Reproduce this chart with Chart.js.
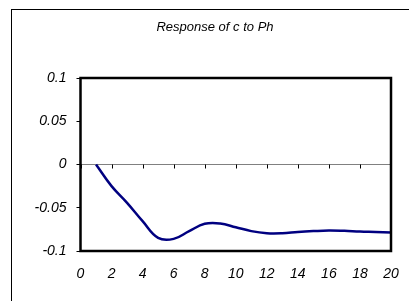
<!DOCTYPE html>
<html>
<head>
<meta charset="utf-8">
<script src="https://cdn.jsdelivr.net/npm/chart.js@4"></script>
<style>
  html, body { margin: 0; padding: 0; background: #fff; }
  #wrap { position: relative; width: 409px; height: 301px; overflow: hidden; }
  #frame {
    position: absolute; left: 11px; top: 9px; width: 420px; height: 320px;
    border-left: 1px solid #000; border-top: 1px solid #000;
  }
  #chart { position: absolute; left: 0; top: 0; }
</style>
</head>
<body>
<div id="wrap">
  <div id="frame"></div>
  <canvas id="chart" width="409" height="301"></canvas>
</div>
<script>
// Chart data
const chartTitle = "Response of c to Ph";
const periods = [1, 2, 3, 4, 5, 6, 7, 8, 9, 10, 11, 12, 13, 14, 15, 16, 17, 18, 19, 20];
const responses = [0, -0.025, -0.0443, -0.0655, -0.0848, -0.086, -0.077, -0.0686, -0.0682, -0.0725,
  -0.077, -0.0794, -0.0794, -0.078, -0.077, -0.0763, -0.0767, -0.0775, -0.078, -0.0786];
const yTickLabels = ["-0.1", "-0.05", "0", "0.05", "0.1"];

Chart.defaults.font.family = "'Liberation Sans', Arial, sans-serif";
Chart.defaults.font.style = "italic";
Chart.defaults.color = "#000";

// Title sits centred on the outer frame (which starts at x=11), not on the plot
const frameTitle = {
  id: "frameTitle",
  afterDraw(chart) {
    const { ctx } = chart;
    ctx.save();
    ctx.font = "italic 13px 'Liberation Sans', Arial, sans-serif";
    ctx.fillStyle = "#000";
    ctx.textAlign = "center";
    ctx.textBaseline = "middle";
    ctx.fillText(chartTitle, (chart.width + 21) / 2, 27);
    ctx.restore();
  },
};

// Thick black box around the plot + little ticks hanging from the zero line
const plotFrame = {
  id: "plotFrame",
  beforeDatasetsDraw(chart) {
    const { ctx, scales } = chart;
    const y0 = scales.y.getPixelForValue(0);
    ctx.save();
    ctx.strokeStyle = "#000";
    ctx.lineWidth = 1;
    scales.x.ticks.forEach((t) => {
      const px = Math.round(scales.x.getPixelForValue(t.value)) + 0.5;
      ctx.beginPath();
      ctx.moveTo(px, y0);
      ctx.lineTo(px, y0 + 4);
      ctx.stroke();
    });
    ctx.restore();
  },
  afterDatasetsDraw(chart) {
    const { ctx, chartArea } = chart;
    ctx.save();
    ctx.strokeStyle = "#000";
    ctx.lineWidth = 2.5;
    ctx.strokeRect(chartArea.left, chartArea.top, chartArea.right - chartArea.left, chartArea.bottom - chartArea.top);
    ctx.restore();
  },
};

const ctx = document.getElementById("chart").getContext("2d");
new Chart(ctx, {
  type: "line",
  data: {
    datasets: [
      {
        data: periods.map((p, i) => ({ x: p, y: responses[i] })),
        borderColor: "#000080",
        borderWidth: 2.5,
        tension: 0.4,
        pointRadius: 0,
        fill: false,
      },
    ],
  },
  options: {
    responsive: false,
    animation: false,
    layout: { padding: { left: 20, right: 18, top: 78, bottom: 20 } },
    plugins: {
      legend: { display: false },
      tooltip: { enabled: false },
      title: { display: false },
    },
    scales: {
      x: {
        type: "linear",
        min: 0,
        max: 20,
        afterFit(scale) {
          scale.height = 30;
          scale.paddingLeft = 0;
          scale.paddingRight = 0;
        },
        ticks: { stepSize: 2, font: { size: 14 }, padding: 15, maxRotation: 0 },
        grid: { display: false, drawTicks: false },
        border: { display: false },
      },
      y: {
        min: -0.1,
        max: 0.1,
        afterFit(scale) {
          scale.width = 60.5;
        },
        ticks: {
          stepSize: 0.05,
          font: { size: 14 },
          padding: 10,
          callback: (v) => yTickLabels.find((l) => Math.abs(parseFloat(l) - v) < 1e-9) ?? "",
        },
        grid: {
          color: (c) => (c.tick && Math.abs(c.tick.value) < 1e-9 ? "#808080" : "transparent"),
          tickColor: "#000",
          tickLength: 4,
          lineWidth: 1,
        },
        border: { display: false },
      },
    },
  },
  plugins: [plotFrame, frameTitle],
});
</script>
</body>
</html>
